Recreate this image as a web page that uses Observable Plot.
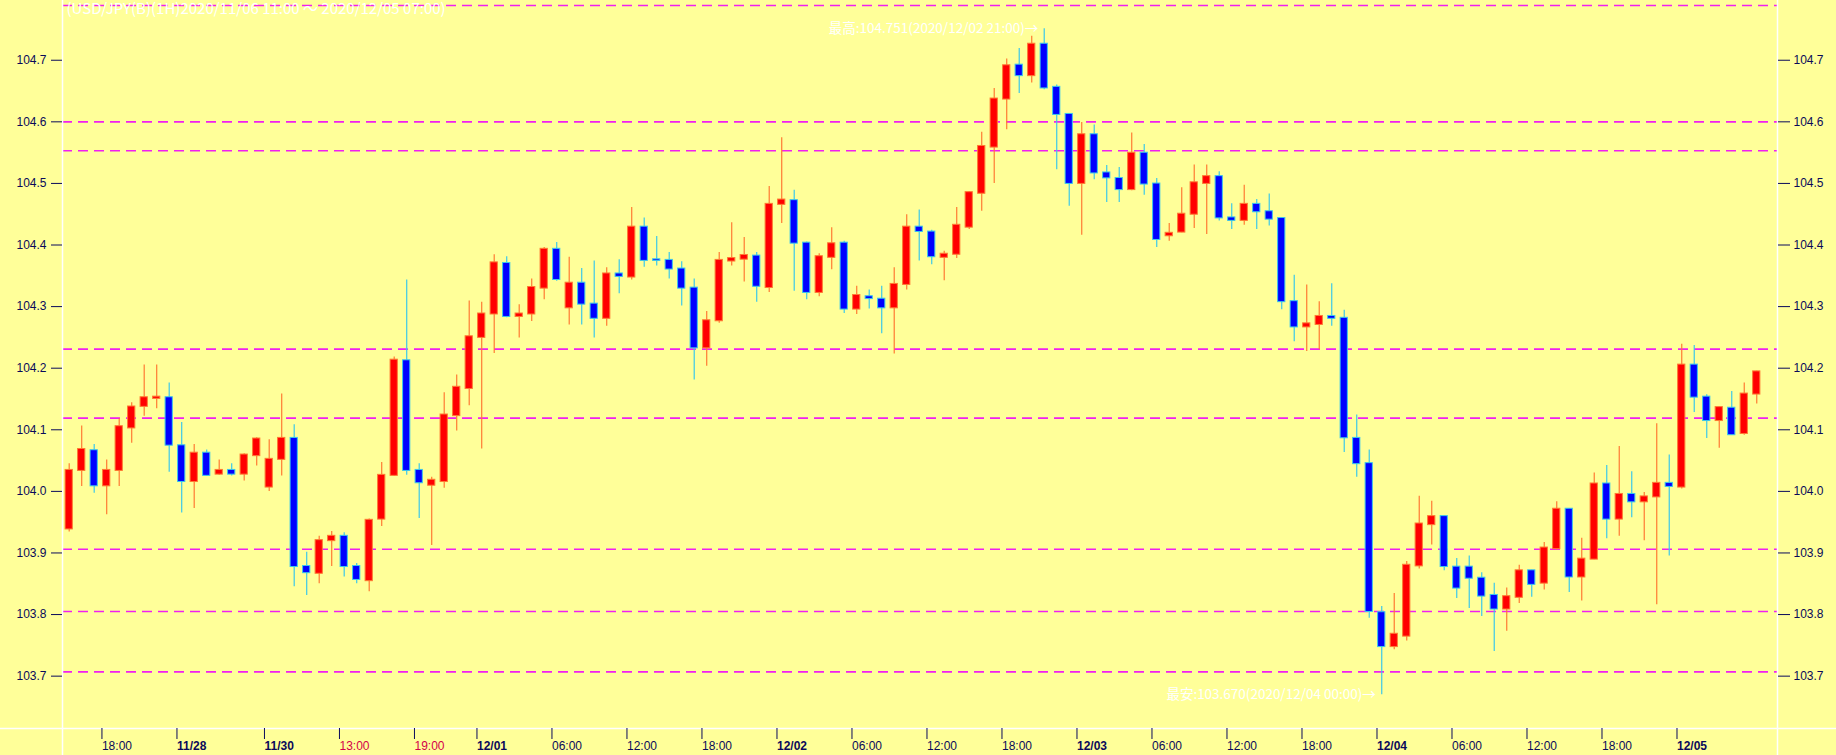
<!DOCTYPE html>
<html><head><meta charset="utf-8">
<script src="https://cdn.jsdelivr.net/npm/d3@7"></script>
<script src="https://cdn.jsdelivr.net/npm/@observablehq/plot@0.6"></script>
<style>
html,body{margin:0;padding:0;background:#FFFF99;}
#chart svg{display:block;}
</style></head><body><div id="chart"></div>
<script>
// USD/JPY 1H candles, 2020/11/27 15:00 .. 2020/12/05 06:00 (JST)
const sessions = [["2020-11-27T15:00", 16], ["2020-11-30T07:00", 120]];
const opens = [
103.939,104.034,104.066,104.009,104.034,104.103,104.138,104.151,104.152,104.074,
104.016,104.062,104.028,104.034,104.028,104.058,104.007,104.052,104.086,103.878,
103.867,103.920,103.927,103.878,103.855,103.955,104.026,104.212,104.034,104.010,
104.016,104.123,104.167,104.250,104.288,104.370,104.284,104.288,104.330,104.393,
104.298,104.338,104.304,104.281,104.353,104.348,104.429,104.376,104.375,104.361,
104.330,104.233,104.277,104.374,104.377,104.382,104.331,104.466,104.472,104.403,
104.323,104.380,104.403,104.296,104.316,104.312,104.298,104.336,104.429,104.421,
104.380,104.385,104.429,104.484,104.559,104.637,104.692,104.675,104.726,104.656,
104.612,104.500,104.579,104.517,104.508,104.490,104.549,104.499,104.415,104.421,
104.450,104.500,104.511,104.444,104.440,104.466,104.454,104.443,104.308,104.267,
104.271,104.284,104.281,104.086,104.045,103.803,103.748,103.765,103.879,103.946,
103.959,103.877,103.877,103.859,103.831,103.809,103.828,103.871,103.851,103.907,
103.971,103.861,103.890,104.012,103.955,103.995,103.983,103.991,104.013,104.007,
104.205,104.153,104.115,104.135,104.094,104.158];
const highs = [
104.045,104.106,104.076,104.051,104.118,104.144,104.205,104.205,104.176,104.112,
104.076,104.067,104.051,104.045,104.061,104.087,104.084,104.158,104.108,103.901,
103.927,103.935,103.933,103.883,103.955,104.047,104.218,104.343,104.045,104.023,
104.160,104.189,104.309,104.307,104.384,104.381,104.303,104.345,104.396,104.404,
104.380,104.362,104.374,104.363,104.376,104.461,104.444,104.414,104.388,104.373,
104.345,104.292,104.388,104.436,104.412,104.388,104.495,104.574,104.489,104.405,
104.386,104.428,104.406,104.333,104.327,104.333,104.363,104.449,104.457,104.424,
104.390,104.461,104.487,104.583,104.654,104.702,104.719,104.739,104.751,104.660,
104.613,104.599,104.595,104.529,104.526,104.582,104.563,104.508,104.435,104.493,
104.530,104.530,104.519,104.467,104.497,104.474,104.483,104.444,104.351,104.335,
104.308,104.337,104.294,104.124,104.067,103.813,103.834,103.886,103.992,103.984,
103.960,103.891,103.895,103.868,103.851,103.843,103.880,103.872,103.917,103.983,
103.972,103.924,104.030,104.042,104.073,104.032,103.998,104.110,104.059,104.239,
104.237,104.157,104.137,104.162,104.176,104.195];
const lows = [
103.934,104.008,103.997,103.962,104.008,104.078,104.122,104.134,104.031,103.965,
103.972,104.024,104.026,104.025,104.017,104.041,104.000,104.025,103.845,103.831,
103.850,103.878,103.861,103.850,103.837,103.943,104.024,104.026,103.956,103.912,
104.005,104.098,104.139,104.069,104.224,104.282,104.249,104.276,104.311,104.341,
104.270,104.270,104.249,104.268,104.321,104.343,104.364,104.366,104.345,104.301,
104.181,104.203,104.273,104.366,104.340,104.307,104.323,104.435,104.325,104.311,
104.316,104.360,104.289,104.287,104.296,104.256,104.223,104.327,104.374,104.368,
104.342,104.378,104.425,104.455,104.500,104.587,104.646,104.663,104.652,104.522,
104.463,104.416,104.506,104.469,104.469,104.488,104.481,104.396,104.406,104.420,
104.427,104.417,104.439,104.425,104.432,104.425,104.431,104.295,104.243,104.227,
104.230,104.268,104.063,104.023,103.794,103.670,103.743,103.757,103.874,103.913,
103.871,103.826,103.810,103.797,103.740,103.773,103.818,103.828,103.840,103.905,
103.836,103.822,103.889,103.923,103.927,103.957,103.920,103.816,103.895,104.004,
104.128,104.086,104.070,104.091,104.091,104.142];
const closes = [
104.034,104.068,104.009,104.034,104.105,104.137,104.152,104.153,104.075,104.016,
104.062,104.026,104.034,104.028,104.059,104.085,104.052,104.086,103.878,103.868,
103.920,103.927,103.878,103.857,103.953,104.026,104.213,104.034,104.014,104.018,
104.124,104.169,104.251,104.288,104.371,104.284,104.288,104.331,104.393,104.344,
104.338,104.304,104.281,104.353,104.349,104.429,104.375,104.375,104.361,104.330,
104.233,104.277,104.375,104.378,104.383,104.333,104.466,104.473,104.403,104.323,
104.381,104.402,104.296,104.318,104.313,104.298,104.336,104.429,104.422,104.381,
104.385,104.432,104.485,104.560,104.637,104.691,104.675,104.726,104.655,104.612,
104.500,104.579,104.517,104.509,104.490,104.549,104.499,104.409,104.419,104.450,
104.501,104.511,104.444,104.440,104.466,104.454,104.442,104.308,104.267,104.272,
104.284,104.281,104.087,104.045,103.805,103.748,103.768,103.880,103.947,103.959,
103.878,103.843,103.859,103.830,103.809,103.829,103.871,103.849,103.908,103.971,
103.861,103.890,104.012,103.955,103.995,103.983,103.991,104.013,104.008,104.205,
104.153,104.115,104.136,104.092,104.158,104.194];

// horizontal reference levels (dashed)
const levels = [104.789, 104.600, 104.553, 104.231, 104.119, 103.906, 103.805, 103.707];
// y ticks
const yTicks = [103.7, 103.8, 103.9, 104.0, 104.1, 104.2, 104.3, 104.4, 104.5, 104.6, 104.7];
// x tick labels: candle index, label, kind
const xTickIndex = [3, 9, 16, 22, 28, 33, 39, 45, 51, 57, 63, 69, 75, 81, 87, 93, 99, 105, 111, 117, 123, 129];
const xTickLabel = ["18:00","11/28","11/30","13:00","19:00","12/01","06:00","12:00","18:00","12/02","06:00","12:00","18:00","12/03","06:00","12:00","18:00","12/04","06:00","12:00","18:00","12/05"];
const xTickKind  = ["time","date","date","irregular","irregular","date","time","time","time","date","time","time","time","date","time","time","time","date","time","time","time","date"];
const titleText = "(USD/JPY(B)(1H)2020/11/06 11:00 ～ 2020/12/05 07:00)";

// build time labels for each candle
const times = [];
for (const [start, n] of sessions) {
  const t0 = new Date(start + ":00Z");
  for (let k = 0; k < n; k++) {
    const t = new Date(t0.getTime() + k * 3600000);
    const p = v => String(v).padStart(2, "0");
    times.push(`${t.getUTCFullYear()}/${p(t.getUTCMonth()+1)}/${p(t.getUTCDate())} ${p(t.getUTCHours())}:00`);
  }
}
const data = opens.map((o, i) => ({i, open: o, high: highs[i], low: lows[i], close: closes[i], time: times[i]}));
const up = data.filter(d => d.close >= d.open);
const down = data.filter(d => d.close < d.open);

const iMax = d3.maxIndex(highs), iMin = d3.minIndex(lows);
const fmt3 = d3.format(".3f");
const notes = [
  {i: iMax, v: highs[iMax], text: `最高:${fmt3(highs[iMax])}(${times[iMax]})→`},
  {i: iMin, v: lows[iMin], text: `最安:${fmt3(lows[iMin])}(${times[iMin]})→`}
];

const ticks = xTickIndex.map((idx, k) => ({pos: idx - 0.38, label: xTickLabel[k], kind: xTickKind[k]}));

const xDomain = [-0.536, 136.66];
const yDomain = [103.615, 104.797];
const navy = "#0a0a5a";
const font = "'Liberation Sans', Arial, sans-serif";
const cjk = "'Noto Sans CJK JP', 'Liberation Sans', sans-serif";

const chart = Plot.plot({
  width: 1836, height: 755,
  marginLeft: 62, marginRight: 59, marginTop: 0, marginBottom: 27,
  style: {background: "#FFFF99", fontFamily: font, fontSize: "12px", overflow: "visible"},
  x: {type: "linear", domain: xDomain, axis: null},
  y: {type: "linear", domain: yDomain, axis: null},
  marks: [
    Plot.ruleY(levels, {stroke: "#f020f0", strokeWidth: 1.6, strokeDasharray: "10,6"}),
    Plot.ruleX(xDomain, {stroke: "white", strokeWidth: 1.5, insetBottom: -27}),
    Plot.ruleY([yDomain[0]], {stroke: "white", strokeWidth: 1.5, insetLeft: -62, insetRight: -59}),
    Plot.ruleX(up, {x: "i", y1: "low", y2: "high", stroke: "#ff7a33", strokeWidth: 1.2}),
    Plot.ruleX(down, {x: "i", y1: "low", y2: "high", stroke: "#3cc8ea", strokeWidth: 1.2}),
    Plot.rect(up, {x1: d => d.i - 0.29, x2: d => d.i + 0.29, y1: "open", y2: "close", fill: "#ff0000", stroke: "#ff7a33", strokeWidth: 1, insetTop: -0.5, insetBottom: -0.5}),
    Plot.rect(down, {x1: d => d.i - 0.29, x2: d => d.i + 0.29, y1: "open", y2: "close", fill: "#0000ff", stroke: "#3cc8ea", strokeWidth: 1, insetTop: -0.5, insetBottom: -0.5}),
    Plot.axisY(yTicks, {anchor: "left", tickSize: 11, tickPadding: 5, tickFormat: ".1f", stroke: navy, fill: navy, fontSize: 12}),
    Plot.axisY(yTicks, {anchor: "right", tickSize: 12, tickPadding: 4, tickFormat: ".1f", stroke: navy, fill: navy, fontSize: 12}),
    Plot.axisX(ticks.map(d => d.pos), {anchor: "bottom", tickSize: 11, tickFormat: () => "", stroke: navy}),
    Plot.text(ticks.filter(d => d.kind === "time"), {x: "pos", text: "label", frameAnchor: "bottom", textAnchor: "start", lineAnchor: "top", dy: 13, fill: navy, fontSize: 12}),
    Plot.text(ticks.filter(d => d.kind === "date"), {x: "pos", text: "label", frameAnchor: "bottom", textAnchor: "start", lineAnchor: "top", dy: 13, fill: navy, fontSize: 12, fontWeight: "bold"}),
    Plot.text(ticks.filter(d => d.kind === "irregular"), {x: "pos", text: "label", frameAnchor: "bottom", textAnchor: "start", lineAnchor: "top", dy: 13, fill: "#d4004a", fontSize: 12}),
    Plot.text(notes, {x: "i", y: "v", text: "text", textAnchor: "end", dx: -6, fill: "white", fontSize: 13.5, fontFamily: cjk}),
    Plot.text([titleText], {frameAnchor: "top-left", dx: 4, dy: 3, lineAnchor: "top", textAnchor: "start", fill: "white", fontSize: 15, fontFamily: cjk})
  ]
});
document.getElementById("chart").appendChild(chart);
</script>
</body></html>
